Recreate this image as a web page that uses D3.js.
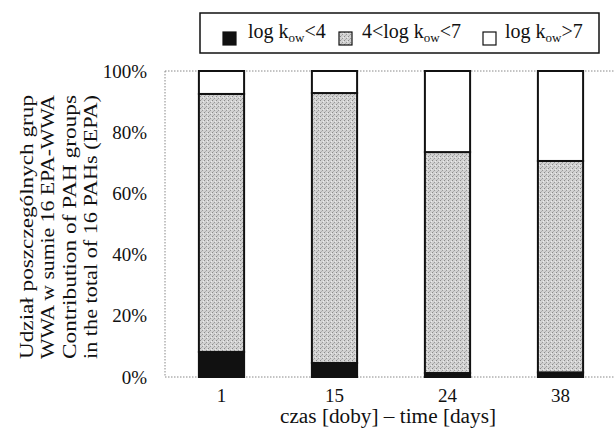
<!DOCTYPE html>
<html>
<head>
<meta charset="utf-8">
<script src="https://cdn.jsdelivr.net/npm/d3@7"></script>
<style>
body { margin: 0; background: #fff; }
</style>
</head>
<body>
<div id="chart"></div>
<script>
var days = ["1", "15", "24", "38"];
var lowKow = [8.2, 4.6, 1.3, 1.5];      // log kow < 4
var midKow = [84.3, 88.2, 72.2, 69.1];  // 4 < log kow < 7
var highKow = [7.5, 7.2, 26.5, 29.4];   // log kow > 7
var yTicks = [0, 20, 40, 60, 80, 100];

var width = 615, height = 428;
var margin = {top: 71, right: 0, bottom: 51, left: 165};
var serif = "'Liberation Serif', 'DejaVu Serif', serif";

var svg = d3.select("#chart").append("svg")
	.attr("width", width)
	.attr("height", height)
	.style("font-family", serif);

var defs = svg.append("defs");
var pat = defs.append("pattern")
	.attr("id", "stipple")
	.attr("patternUnits", "userSpaceOnUse")
	.attr("width", 4).attr("height", 4);
pat.append("rect").attr("width", 4).attr("height", 4).attr("fill", "#d2d2d2");
pat.append("rect").attr("x", 0).attr("y", 0).attr("width", 1).attr("height", 1).attr("fill", "#8a8a8a");
pat.append("rect").attr("x", 2).attr("y", 2).attr("width", 1).attr("height", 1).attr("fill", "#999");
pat.append("rect").attr("x", 1).attr("y", 3).attr("width", 1).attr("height", 1).attr("fill", "#b0b0b0");
pat.append("rect").attr("x", 3).attr("y", 1).attr("width", 1).attr("height", 1).attr("fill", "#ececec");

var x = d3.scaleBand()
	.domain(days)
	.range([margin.left, 617])
	.paddingInner(0.6)
	.paddingOuter(0.3);

var y = d3.scaleLinear()
	.domain([0, 100])
	.range([height - margin.bottom, margin.top]);

// dotted frame lines
var lineStyle = function(sel) {
	return sel.attr("stroke", "#888").attr("stroke-width", 1).attr("stroke-dasharray", "1.5,1.5");
};
lineStyle(svg.append("line").attr("x1", margin.left).attr("x2", width).attr("y1", y(100)).attr("y2", y(100)));
lineStyle(svg.append("line").attr("x1", margin.left).attr("x2", width).attr("y1", y(0)).attr("y2", y(0)));
lineStyle(svg.append("line").attr("x1", margin.left).attr("x2", margin.left).attr("y1", y(100)).attr("y2", y(0)));

// y axis
var yAxis = d3.axisLeft(y)
	.tickValues(yTicks)
	.tickSize(0)
	.tickPadding(18)
	.tickFormat(function(d) { return d + "%"; });
var yg = svg.append("g")
	.attr("transform", "translate(" + margin.left + ",0)")
	.call(yAxis);
yg.select(".domain").remove();
yg.attr("font-family", null);
yg.selectAll("text").style("font-size", "19px").style("font-family", serif).attr("fill", "#111");

// x axis
var xAxis = d3.axisBottom(x).tickSize(0).tickPadding(12);
var xg = svg.append("g")
	.attr("transform", "translate(0," + y(0) + ")")
	.call(xAxis);
xg.select(".domain").remove();
xg.attr("font-family", null);
xg.selectAll("text").style("font-size", "19px").style("font-family", serif).attr("fill", "#111");

// stacked bars
var rows = days.map(function(d, i) {
	return {day: d, low: lowKow[i], mid: midKow[i], high: highKow[i]};
});
var stack = d3.stack().keys(["low", "mid", "high"])(rows);
var fills = {low: "#111", mid: "url(#stipple)", high: "#fff"};

svg.selectAll("g.layer")
	.data(stack)
	.enter().append("g")
	.attr("class", "layer")
	.attr("fill", function(d) { return fills[d.key]; })
	.selectAll("rect")
	.data(function(d) { return d; })
	.enter().append("rect")
	.attr("x", function(d) { return x(d.data.day); })
	.attr("width", x.bandwidth())
	.attr("y", function(d) { return y(d[1]); })
	.attr("height", function(d) { return y(d[0]) - y(d[1]); })
	.attr("stroke", "#111")
	.attr("stroke-width", 2);

// axis titles
var yTitle = ["Udział poszczególnych grup", "WWA w sumie 16 EPA-WWA",
	"Contribution of PAH groups", "in the total of 16 PAHs (EPA)"];
var cy = (y(0) + y(100)) / 2 + 3;
svg.selectAll("text.ytitle")
	.data(yTitle)
	.enter().append("text")
	.attr("class", "ytitle")
	.attr("transform", function(d, i) { return "translate(" + (33 + i * 21.4) + "," + cy + ") rotate(-90)"; })
	.attr("text-anchor", "middle")
	.attr("fill", "#111")
	.attr("textLength", 264)
	.attr("lengthAdjust", "spacingAndGlyphs")
	.style("font-size", "19px")
	.style("font-family", serif)
	.text(function(d) { return d; });

svg.append("text")
	.attr("x", 388)
	.attr("y", 423)
	.attr("text-anchor", "middle")
	.attr("fill", "#111")
	.attr("textLength", 216)
	.attr("lengthAdjust", "spacingAndGlyphs")
	.style("font-size", "20px")
	.style("font-family", serif)
	.text("czas [doby] – time [days]");

// legend
var legend = svg.append("g");
legend.append("rect")
	.attr("x", 200).attr("y", 13)
	.attr("width", 399).attr("height", 40)
	.attr("fill", "#fff").attr("stroke", "#111").attr("stroke-width", 1.5);

var legendItems = [
	{sx: 223, tx: 248, fill: "#111", main: "log k", tail: "<4"},
	{sx: 339, tx: 362, fill: "url(#stipple)", main: "4<log k", tail: "<7"},
	{sx: 483, tx: 505, fill: "#fff", main: "log k", tail: ">7"}
];
legendItems.forEach(function(it) {
	legend.append("rect")
		.attr("x", it.sx).attr("y", 32)
		.attr("width", 13).attr("height", 13)
		.attr("fill", it.fill).attr("stroke", "#111").attr("stroke-width", 1.2);
	var t = legend.append("text")
		.attr("x", it.tx).attr("y", 38)
		.attr("fill", "#111")
		.style("font-size", "20px")
		.style("font-family", serif);
	t.append("tspan").text(it.main);
	t.append("tspan").attr("dy", 4).style("font-size", "13px").text("ow");
	t.append("tspan").attr("dy", -4).text(it.tail);
});
</script>
</body>
</html>
